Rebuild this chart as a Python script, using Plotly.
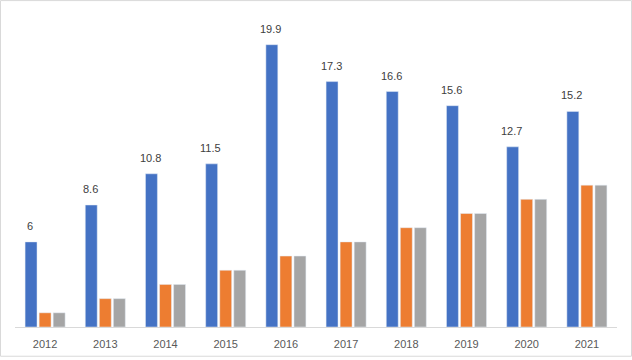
import plotly.graph_objects as go

years = ["2012", "2013", "2014", "2015", "2016", "2017", "2018", "2019", "2020", "2021"]
series_blue = [6, 8.6, 10.8, 11.5, 19.9, 17.3, 16.6, 15.6, 12.7, 15.2]
series_orange = [1, 2, 3, 4, 5, 6, 7, 8, 9, 10]
series_gray = [1, 2, 3, 4, 5, 6, 7, 8, 9, 10]
blue_labels = ["6", "8.6", "10.8", "11.5", "19.9", "17.3", "16.6", "15.6", "12.7", "15.2"]

W, H = 632, 360
ml, mr, mt, mb = 15, 15, 10, 30
pw, ph = W - ml - mr, H - mt - mb

fig = go.Figure()
fig.add_trace(go.Bar(x=years, y=series_blue, marker_color="#4472C4", name="A"))
fig.add_trace(go.Bar(x=years, y=series_orange, marker_color="#ED7D31", name="B"))
fig.add_trace(go.Bar(x=years, y=series_gray, marker_color="#A5A5A5", name="C"))

# category index positions for the data labels over the blue bars
for i, (v, lab) in enumerate(zip(series_blue, blue_labels)):
    fig.add_annotation(x=i, y=v, text=lab, showarrow=False, xanchor="center",
                       yanchor="bottom", yshift=8, xshift=-15,
                       font=dict(family="Liberation Sans, Arial", size=11, color="#404040"))

fig.add_shape(type="rect", xref="paper", yref="paper",
              x0=(0.5 - ml) / pw, x1=(W - 0.5 - ml) / pw,
              y0=(H - mb - (H - 0.5)) / ph, y1=(H - mb - 0.5) / ph,
              line=dict(color="#d9d9d9", width=1), layer="below")

fig.update_layout(
    width=W, height=H,
    margin=dict(l=ml, r=mr, t=mt, b=mb),
    paper_bgcolor="white", plot_bgcolor="white",
    showlegend=False,
    barmode="group", bargap=0.30, bargroupgap=0.15,
    font=dict(family="Liberation Sans, Arial", size=11, color="#595959"),
    xaxis=dict(type="category", range=[-0.5, len(years) - 0.5], showline=True,
               linecolor="#d9d9d9", linewidth=1, ticks="outside", ticklen=7,
               tickcolor="rgba(0,0,0,0)",
               showgrid=False, tickfont=dict(size=11, color="#595959")),
    yaxis=dict(range=[0, ph / 14.32], showticklabels=False, showgrid=False,
               zeroline=False, showline=False),
)

fig.write_html("out.html", config={"displayModeBar": False},
               post_script="document.body.style.margin='0';document.body.style.overflow='hidden';")
